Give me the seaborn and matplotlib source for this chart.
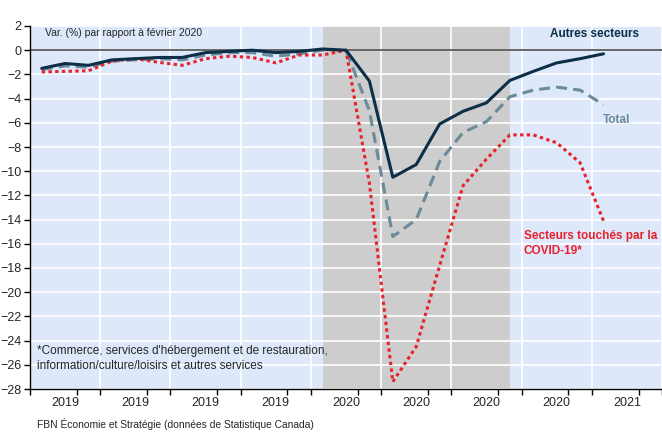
import matplotlib
matplotlib.use("Agg")
import matplotlib.pyplot as plt
import seaborn as sns
import pandas as pd

# monthly, Jan 2019 .. Jan 2021 (index 0..24)
months = list(range(25))
autres = [-1.5, -1.1, -1.25, -0.8, -0.7, -0.6, -0.6, -0.2, -0.1, 0.0, -0.2, -0.1, 0.1,
          0.0, -2.55, -10.5, -9.45, -6.1, -5.05, -4.35, -2.5, -1.75, -1.05, -0.7, -0.3]
total = [-1.6, -1.3, -1.4, -0.9, -0.8, -0.7, -0.8, -0.4, -0.2, -0.2, -0.5, -0.3, 0.0,
         0.0, -5.0, -15.4, -14.0, -9.2, -6.8, -5.9, -3.85, -3.3, -3.05, -3.3, -4.5]
covid = [-1.8, -1.75, -1.7, -0.9, -0.7, -1.0, -1.25, -0.7, -0.5, -0.6, -1.05, -0.4, -0.4,
         0.0, -11.0, -27.4, -24.5, -17.8, -11.2, -9.0, -7.0, -7.0, -7.65, -9.3, -14.1]
year_labels = ['2019', '2019', '2019', '2019', '2020', '2020', '2020', '2020', '2021']
shade_start, shade_end = 12, 20

df = pd.DataFrame({'mois': months, 'Autres secteurs': autres, 'Total': total,
                   'Secteurs touchés': covid})

sns.set_style("white")
plt.rcParams['font.family'] = ['Liberation Sans', 'DejaVu Sans']

navy = '#0d2e47'
grayblue = '#6b8a9a'
red = '#e8212b'

fig = plt.figure(figsize=(6.62, 4.34), dpi=100)
ax = fig.add_axes([30 / 662, 1 - 389 / 434, 1 - 30 / 662, (389 - 26) / 434])
ax.set_facecolor('#dde9fb')

ax.axvspan(shade_start, shade_end, color='#cdcdcd', lw=0, zorder=0)

# grid
ax.set_ylim(-28, 2)
ax.set_yticks(range(-28, 3, 2))
ax.grid(axis='y', color='white', lw=1.2, zorder=1)
ax.set_axisbelow(True)
bounds = [q * 3 - 0.5 for q in range(10)]
for b in bounds[1:]:
    ax.axvline(b, color='white', lw=1.2, zorder=1)
ax.axhline(0, color='#666666', lw=1.4, zorder=2)

sns.lineplot(data=df, x='mois', y='Total', ax=ax, color=grayblue, lw=2.2, zorder=3)
ax.lines[-1].set_dashes((3.6, 2.0))
sns.lineplot(data=df, x='mois', y='Secteurs touchés', ax=ax, color=red, lw=2.2, zorder=4)
ax.lines[-1].set_dashes((1.1, 1.1))
sns.lineplot(data=df, x='mois', y='Autres secteurs', ax=ax, color=navy, lw=2.2, zorder=5)

ax.set_xlim(-0.5, 26.4)
centers = [q * 3 + 1 for q in range(9)]
ax.set_xticks(centers)
ax.set_xticklabels(year_labels, fontsize=9)
ax.tick_params(axis='x', which='major', length=0, pad=6)
minor = sorted(bounds + [q * 3 + 1.5 for q in range(9)])
ax.set_xticks(minor, minor=True)
ax.tick_params(axis='x', which='minor', length=4, width=1, color='black', direction='out', bottom=True)
ax.tick_params(axis='y', length=4, width=1, color='black', direction='out', left=True, labelsize=9, pad=2)
ax.set_xlabel('')
ax.set_ylabel('')

for s in ['top', 'right']:
    ax.spines[s].set_visible(False)
for s in ['left', 'bottom']:
    ax.spines[s].set_color('black')
    ax.spines[s].set_linewidth(1)

ax.text(0.13, 1.45, 'Var. (%) par rapport à février 2020', fontsize=7.5, va='center', ha='left')
ax.text(21.7, 1.3, 'Autres secteurs', fontsize=8.5, fontweight='bold', color=navy, va='center')
ax.text(23.96, -5.8, 'Total', fontsize=8.5, fontweight='bold', color=grayblue, va='center')
ax.text(20.6, -15.95, 'Secteurs touchés par la\nCOVID-19*', fontsize=8.5, fontweight='bold',
        color=red, va='center', linespacing=1.3)
ax.text(-0.2, -25.5, "*Commerce, services d'hébergement et de restauration,\n"
        "information/culture/loisirs et autres services", fontsize=8.5, va='center',
        linespacing=1.35)

fig.text(37 / 662, 1 - 424 / 434, 'FBN Économie et Stratégie (données de Statistique Canada)',
         fontsize=7.4, va='center', ha='left')

plt.savefig('out.png', dpi=100)
plt.close()
